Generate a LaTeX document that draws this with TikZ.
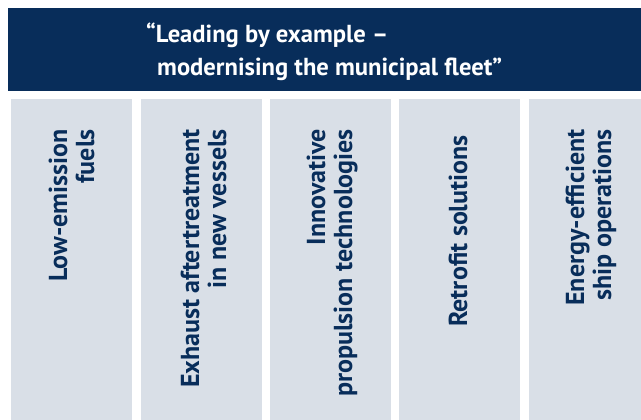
\documentclass[tikz,border=0pt]{standalone}
\usepackage{fontspec}
\setmainfont{PT Sans}
\definecolor{navy}{HTML}{082D5A}
\definecolor{pale}{HTML}{D9DFE7}
\begin{document}
\begin{tikzpicture}[x=1pt,y=-1pt,
  banner/.style={fill=navy, draw=none, inner sep=0, anchor=north west, minimum width=633pt, minimum height=83pt},
  colbox/.style={fill=pale, draw=none, inner sep=0, anchor=north west, minimum width=121pt, minimum height=321pt},
  titletext/.style={text=white, font=\fontsize{24.6}{28}\selectfont\bfseries, inner sep=0, anchor=base west},
  coltext/.style={text=navy, font=\fontsize{26}{30}\selectfont\bfseries, inner sep=0, anchor=base east, rotate=90}]
\useasboundingbox (0,0) rectangle (641,420);
\node[banner] (ban) at (8,8) {};
\node[titletext] (t1) at (146,43) {“Leading by example –};
\node[titletext] (t2) at (157,76) {modernising the municipal fleet”};
\node[colbox] (c1) at (11,99) {};
\node[colbox] (c2) at (141,99) {};
\node[colbox] (c3) at (270,99) {};
\node[colbox] (c4) at (399,99) {};
\node[colbox] (c5) at (529,99) {};
\node[coltext] (l1a) at (67,129) {Low-emission};
\node[coltext] (l1b) at (94,129) {fuels};
\node[coltext] (l2a) at (199,129) {Exhaust aftertreatment};
\node[coltext] (l2b) at (226,129) {in new vessels};
\node[coltext] (l3a) at (325,129) {Innovative};
\node[coltext] (l3b) at (352,129) {propulsion technologies};
\node[coltext] (l4a) at (467,135) {Retrofit solutions};
\node[coltext] (l5a) at (584,129) {Energy-efficient};
\node[coltext] (l5b) at (611,129) {ship operations};
\end{tikzpicture}
\end{document}
